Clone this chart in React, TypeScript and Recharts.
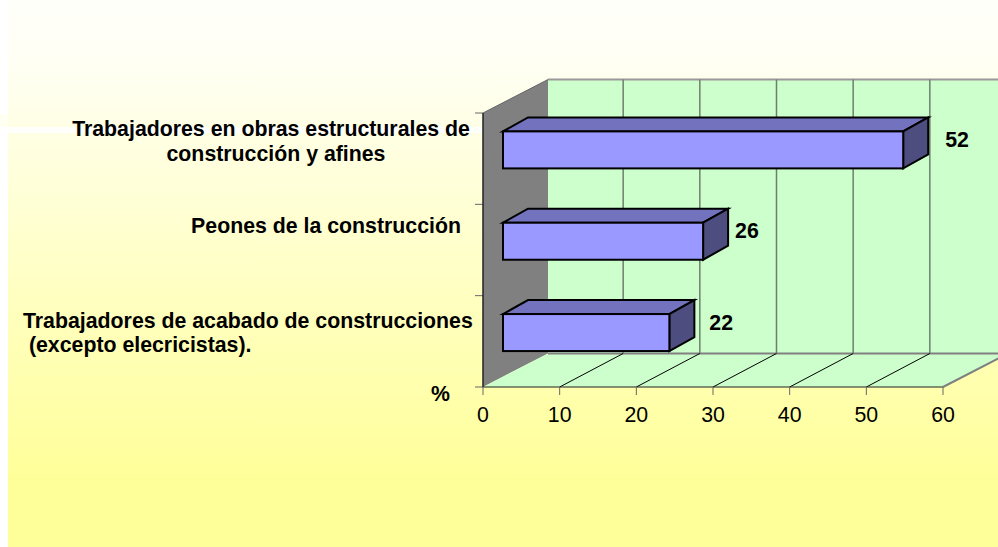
import React from 'react';
import { BarChart, Bar, XAxis, YAxis, LabelList, ReferenceArea } from 'recharts';

const categories = [
  'Trabajadores en obras estructurales de construcción y afines',
  'Peones de la construcción',
  'Trabajadores de acabado de construcciones (excepto elecricistas).',
];
const shares = [52.2, 26.1, 21.7];
const shownValues = [52, 26, 22];
const xTicks = [0, 10, 20, 30, 40, 50, 60];

const data = categories.map((name, i) => ({ name, share: shares[i], shown: shownValues[i] }));

// wrapped category labels, placed like the text boxes of the original slide
const labelLines = [
  { xs: [271, 276], dy: -22.5, anchor: 'middle', lines: ['Trabajadores en obras estructurales de', 'construcción y afines'] },
  { xs: [326], dy: -17.5, anchor: 'middle', lines: ['Peones de la construcción'] },
  { xs: [23, 23], dy: -13.5, anchor: 'start', lines: ['Trabajadores de acabado de construcciones', ' (excepto elecricistas).'] },
];
const valueLabelGap = [42, 32, 40];

const FONT = '"Liberation Sans", Arial, sans-serif';
const TEXT_SIZE = 21.3;
const DEPTH_X = 65;
const DEPTH_Y = -33.5;
const GRID_DX = 63.5;
const BAR_DX = 20;
const BAR_DY = -9;
const BAR_DEPTH_X = 25;
const BAR_DEPTH_Y = -14;

// 3D box walls, worked out from the plot rectangle the reference area is given
const Walls = ({ x, y, width, height }: any) => {
  const bottom = y + height;
  const tickX = (v: number) => x + (v / 60) * width;
  const bandEdges = categories.map((_, i) => y + (i * height) / categories.length).concat(bottom);
  return (
    <g>
      <polygon
        points={`${x},${y} ${x + DEPTH_X},${y + DEPTH_Y} ${x + DEPTH_X},${bottom + DEPTH_Y} ${x},${bottom}`}
        fill="#808080"
      />
      <rect x={x + DEPTH_X} y={y + DEPTH_Y} width={width + 10} height={height} fill="#CCFFCC" />
      <polygon
        points={`${x},${bottom} ${x + DEPTH_X},${bottom + DEPTH_Y} ${x + width + DEPTH_X},${bottom + DEPTH_Y} ${x + width},${bottom}`}
        fill="#CCFFCC"
      />
      <line x1={x + DEPTH_X} y1={y + DEPTH_Y} x2={x + width + DEPTH_X} y2={y + DEPTH_Y} stroke="#999" strokeWidth={2} />
      <line x1={x} y1={y} x2={x + DEPTH_X} y2={y + DEPTH_Y} stroke="#666" strokeWidth={1} />
      <line x1={x + width} y1={bottom} x2={x + width + DEPTH_X} y2={bottom + DEPTH_Y} stroke="#808080" strokeWidth={2} />
      <line x1={x + DEPTH_X} y1={bottom + DEPTH_Y} x2={x + width + DEPTH_X} y2={bottom + DEPTH_Y} stroke="#808080" strokeWidth={2} />
      {xTicks.slice(1, -1).map((v) => (
        <g key={v}>
          <line
            x1={tickX(v) + GRID_DX}
            y1={y + DEPTH_Y}
            x2={tickX(v) + GRID_DX}
            y2={bottom + DEPTH_Y}
            stroke="#6E7F6E"
            strokeWidth={1.5}
          />
          <line x1={tickX(v)} y1={bottom} x2={tickX(v) + GRID_DX} y2={bottom + DEPTH_Y} stroke="#000" strokeWidth={1} />
        </g>
      ))}
      {bandEdges.map((edge) => (
        <line key={edge} x1={x - 8} y1={edge} x2={x} y2={edge} stroke="#666" strokeWidth={1} />
      ))}
      <line x1={x} y1={y} x2={x} y2={bottom} stroke="#222" strokeWidth={1.5} />
      <text x={x - 52} y={bottom + 14} fontFamily={FONT} fontSize={TEXT_SIZE} fontWeight="bold" fill="#000">
        %
      </text>
    </g>
  );
};

const Box3D = ({ x, y, width, height }: any) => {
  const left = x + BAR_DX;
  const top = y + BAR_DY;
  const right = left + width;
  const bottom = top + height;
  return (
    <g stroke="#000" strokeWidth={2} strokeLinejoin="miter">
      <polygon
        points={`${left},${top} ${left + BAR_DEPTH_X},${top + BAR_DEPTH_Y} ${right + BAR_DEPTH_X},${top + BAR_DEPTH_Y} ${right},${top}`}
        fill="#7272BF"
      />
      <polygon
        points={`${right},${top} ${right + BAR_DEPTH_X},${top + BAR_DEPTH_Y} ${right + BAR_DEPTH_X},${bottom + BAR_DEPTH_Y} ${right},${bottom}`}
        fill="#4D4D80"
      />
      <rect x={left} y={top} width={width} height={height} fill="#9999FF" />
    </g>
  );
};

const CategoryTick = ({ y, index }: any) => {
  const item = labelLines[index];
  return (
    <text
      textAnchor={item.anchor}
      fontFamily={FONT}
      fontSize={TEXT_SIZE}
      fontWeight="bold"
      fill="#000"
      style={{ whiteSpace: 'pre' }}
    >
      {item.lines.map((line, i) => (
        <tspan key={i} x={item.xs[i]} y={y + item.dy + i * 24.5}>
          {line}
        </tspan>
      ))}
    </text>
  );
};

const ValueLabel = ({ x, y, width, height, value, index }: any) => (
  <text
    x={x + BAR_DX + width + valueLabelGap[index]}
    y={y + height / 2 - 12}
    fontFamily={FONT}
    fontSize={TEXT_SIZE}
    fontWeight="bold"
    fill="#000"
  >
    {value}
  </text>
);

export default function App() {
  return (
    <div style={{ position: 'absolute', left: 0, top: 0, width: 998, height: 547, overflow: 'hidden', background: '#fff' }}>
      <div
        style={{
          position: 'absolute',
          left: 8,
          top: 0,
          width: 990,
          height: 547,
          background: 'linear-gradient(180deg, #FFFFFA 0%, #FFFFF5 10%, #FFFF99 88%, #FFFF99 100%)',
        }}
      />
      <div style={{ position: 'absolute', left: 8, top: 127, width: 475, height: 6, background: '#FFFFFC' }} />
      <div style={{ position: 'absolute', left: 0, top: 114, width: 8, height: 13, background: '#FFFFF2' }} />
      <div style={{ position: 'absolute', left: 0, top: 0 }}>
        <BarChart
          width={998}
          height={547}
          data={data}
          layout="vertical"
          barCategoryGap="30%"
          margin={{ top: 113, right: 55, bottom: 120, left: 0 }}
        >
          <ReferenceArea x1={0} x2={60} ifOverflow="visible" shape={<Walls />} />
          <XAxis
            type="number"
            dataKey="share"
            domain={[0, 60]}
            ticks={xTicks}
            height={40}
            interval={0}
            tickSize={8}
            tickMargin={12}
            tick={{ fontFamily: FONT, fontSize: TEXT_SIZE, fill: '#000' }}
            tickLine={{ stroke: '#666' }}
            axisLine={{ stroke: '#222' }}
          />
          <YAxis
            type="category"
            dataKey="name"
            width={483}
            interval={0}
            axisLine={false}
            tickLine={false}
            tick={<CategoryTick />}
          />
          <Bar dataKey="share" shape={<Box3D />} isAnimationActive={false}>
            <LabelList dataKey="shown" content={<ValueLabel />} />
          </Bar>
        </BarChart>
      </div>
    </div>
  );
}
